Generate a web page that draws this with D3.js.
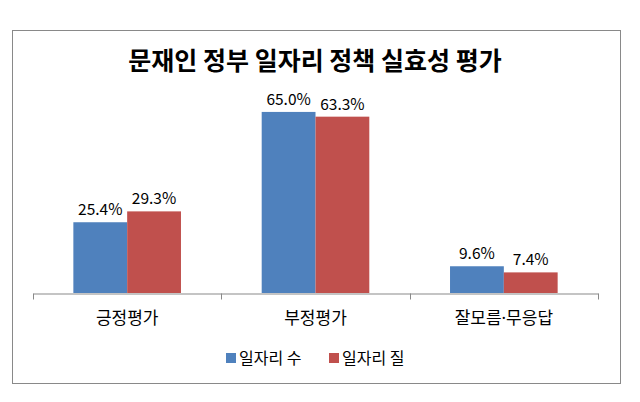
<!DOCTYPE html>
<html><head><meta charset="utf-8">
<script src="https://cdn.jsdelivr.net/npm/d3@7"></script>
<style>body{margin:0;background:#fff}svg{display:block}</style>
</head><body>
<svg id="c" width="640" height="402"></svg>
<script>
const categories = ["긍정평가", "부정평가", "잘모름·무응답"];
const seriesNames = ["일자리 수", "일자리 질"];
const seriesJobsCount = [25.4, 65.0, 9.6];
const seriesJobsQuality = [29.3, 63.3, 7.4];
const colors = ["#4F81BD", "#C0504D"];
const title = "문재인 정부 일자리 정책 실효성 평가";
const font = "'Noto Sans CJK KR', 'Noto Sans', sans-serif";
const axisFont = "'Noto Sans', 'Noto Sans CJK KR', sans-serif";

(function () {
const svg = d3.select("#c");
svg.append("rect").attr("x", 12.5).attr("y", 30.5).attr("width", 608).attr("height", 353)
  .attr("fill", "#fff").attr("stroke", "#898989");

svg.append("text").attr("x", 315).attr("y", 70).attr("text-anchor", "middle")
  .attr("font-family", font).attr("font-weight", "bold").attr("font-size", 25).text(title);

const pLeft = 33, pRight = 598, pBottom = 293, pTop = 98;
const x = d3.scaleBand().domain(categories).range([pLeft, pRight]).paddingInner(0).paddingOuter(0);
const y = d3.scaleLinear().domain([0, 70]).range([pBottom, pTop]);
const x1 = d3.scaleBand().domain(seriesNames).range([0, x.bandwidth()]).paddingInner(0).paddingOuter(0.75);

const data = [seriesJobsCount, seriesJobsQuality];
const g = svg.append("g");
categories.forEach((c, i) => {
  seriesNames.forEach((s, j) => {
    const v = data[j][i];
    g.append("rect").attr("x", x(c) + x1(s)).attr("y", y(v))
      .attr("width", x1.bandwidth()).attr("height", y(0) - y(v)).attr("fill", colors[j]);
    g.append("text").attr("x", x(c) + x1(s) + x1.bandwidth() / 2).attr("y", y(v) - 7)
      .attr("text-anchor", "middle").attr("font-family", font).attr("font-size", 15.5)
      .attr("fill", "#000").text(v.toFixed(1) + "%");
  });
});

const axis = d3.axisBottom(x).tickSize(0).tickPadding(16);
const ax = svg.append("g").attr("transform", `translate(0,${pBottom + 0.5})`).call(axis);
ax.select(".domain").attr("stroke", "#898989");
ax.selectAll("text").attr("font-family", axisFont).attr("font-size", 17).attr("fill", "#000").attr("dy", "0.85em");
const bounds = categories.map(c => x(c)).concat([x(categories[categories.length - 1]) + x.bandwidth()]);
ax.selectAll("line.b").data(bounds).enter().append("line").attr("class", "b")
  .attr("x1", d => Math.round(d) + 0.5).attr("x2", d => Math.round(d) + 0.5)
  .attr("y1", 0).attr("y2", 6).attr("stroke", "#898989");

const leg = svg.append("g");
const legX = [226, 329];
seriesNames.forEach((s, j) => {
  leg.append("rect").attr("x", legX[j]).attr("y", 353).attr("width", 10).attr("height", 10).attr("fill", colors[j]);
  leg.append("text").attr("x", legX[j] + 13).attr("y", 364).attr("font-family", font)
    .attr("font-size", 16).attr("fill", "#000").text(s);
});
})();
</script>
</body></html>
